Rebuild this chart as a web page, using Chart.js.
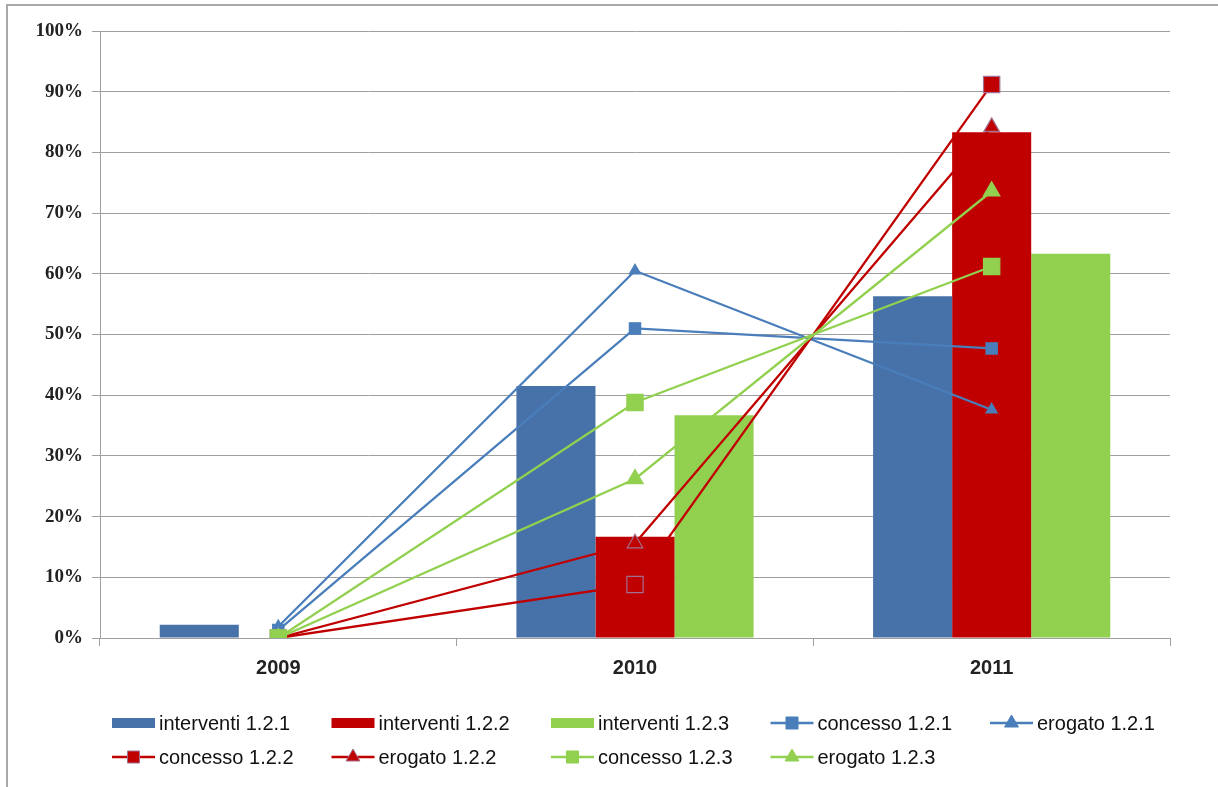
<!DOCTYPE html>
<html>
<head>
<meta charset="utf-8">
<script src="https://cdn.jsdelivr.net/npm/chart.js@4/dist/chart.umd.min.js"></script>
<style>
  html, body { margin: 0; padding: 0; background: #ffffff; }
  #wrap { position: relative; width: 1218px; height: 787px; overflow: hidden; }
  #frame { position: absolute; left: 6px; top: 4px; width: 1300px; height: 900px;
           border-top: 2px solid #a8a8a8; border-left: 2px solid #a8a8a8; }
  canvas { position: absolute; left: 0; top: 0; }
</style>
</head>
<body>
<div id="wrap">
  <div id="frame"></div>
  <canvas id="chart" width="1218" height="787"></canvas>
</div>
<script>
// Years on the horizontal axis
const years = ['2009', '2010', '2011'];

// Share of each year (percent) – bars
const interventi121 = [2.2, 41.5, 56.3];
const interventi122 = [0, 16.7, 83.3];
const interventi123 = [0, 36.7, 63.3];

// Share of each year (percent) – lines
const concesso121 = [1.3, 51.0, 47.7];
const erogato121  = [1.9, 60.5, 37.6];
const concesso122 = [0, 8.8, 91.2];
const erogato122  = [0, 15.6, 84.2];
const concesso123 = [0, 38.8, 61.2];
const erogato123  = [0, 26.2, 73.6];

// Percent axis ticks
const yTicks = [0, 10, 20, 30, 40, 50, 60, 70, 80, 90, 100];

const BLUE_BAR = '#4672a9';
const BLUE_LINE = '#4a7ebb';
const RED = '#c00000';
const RED_EDGE = '#a27090';
const GREEN = '#92d050';

function bar(label, data, color) {
  return { type: 'bar', label, data, backgroundColor: color, borderWidth: 0, order: 20 };
}
function line(label, data, color, style, radius, edge, order) {
  return {
    type: 'line', label, data, order,
    borderColor: color, borderWidth: 2.3, tension: 0, fill: false,
    pointStyle: style, pointRadius: radius, pointHoverRadius: radius,
    pointBackgroundColor: color, pointBorderColor: edge || color, pointBorderWidth: 1.2
  };
}

const datasets = [
  bar('interventi 1.2.1', interventi121, BLUE_BAR),
  bar('interventi 1.2.2', interventi122, RED),
  bar('interventi 1.2.3', interventi123, GREEN),
  line('concesso 1.2.1', concesso121, BLUE_LINE, 'rect', 8, null, 8),
  line('erogato 1.2.1', erogato121, BLUE_LINE, 'triangle', 6.5, null, 7),
  line('concesso 1.2.2', concesso122, RED, 'rect', 11.5, RED_EDGE, 6),
  line('erogato 1.2.2', erogato122, RED, 'triangle', 9, RED_EDGE, 5),
  line('concesso 1.2.3', concesso123, GREEN, 'rect', 11.5, null, 4),
  line('erogato 1.2.3', erogato123, GREEN, 'triangle', 9.5, null, 3)
];

// Two-row grid legend under the axis
const gridLegend = {
  id: 'gridLegend',
  afterDraw(chart) {
    const ctx = chart.ctx;
    ctx.save();
    ctx.font = '20px "Liberation Sans", Arial, sans-serif';
    ctx.textBaseline = 'middle';
    chart.data.datasets.forEach((ds, i) => {
      const col = i % 5, row = Math.floor(i / 5);
      const x = 112 + col * 219.5;
      const y = row === 0 ? 723 : 757;
      if (ds.type === 'bar') {
        ctx.fillStyle = ds.backgroundColor;
        ctx.fillRect(x, y - 5, 43, 10);
      } else {
        ctx.strokeStyle = ds.borderColor;
        ctx.lineWidth = 2.5;
        ctx.beginPath();
        ctx.moveTo(x, y);
        ctx.lineTo(x + 43, y);
        ctx.stroke();
        ctx.fillStyle = ds.pointBackgroundColor;
        ctx.strokeStyle = ds.pointBorderColor;
        ctx.lineWidth = 1;
        Chart.helpers.drawPoint(ctx, {
          pointStyle: ds.pointStyle,
          radius: ds.pointStyle === 'rect' ? 8.5 : 8,
          rotation: 0,
          borderWidth: 1
        }, x + 21.5, y);
      }
      ctx.fillStyle = '#111';
      ctx.fillText(ds.label, x + 47, y + 1);
    });
    ctx.restore();
  }
};

new Chart(document.getElementById('chart'), {
  data: { labels: years, datasets },
  plugins: [gridLegend],
  options: {
    responsive: false,
    animation: false,
    layout: { padding: { top: 31, right: 48, left: 0, bottom: 0 } },
    plugins: { legend: { display: false }, tooltip: { enabled: false } },
    datasets: { bar: { barPercentage: 1, categoryPercentage: 0.665 } },
    scales: {
      x: {
        offset: true,
        grid: { offset: true, drawOnChartArea: false, drawTicks: true, tickLength: 8, color: '#9f9f9f', lineWidth: 1 },
        border: { color: '#9f9f9f', width: 1 },
        ticks: { color: '#222', padding: 10, font: { family: '"Liberation Sans", Arial, sans-serif', size: 20, weight: 'bold' } },
        afterFit(scale) { scale.height = 149; }
      },
      y: {
        min: 0, max: 100,
        afterBuildTicks(scale) { scale.ticks = yTicks.map(v => ({ value: v })); },
        grid: { color: '#9f9f9f', lineWidth: 1, tickLength: 8 },
        border: { color: '#9f9f9f', width: 1 },
        ticks: {
          color: '#222', padding: 9,
          font: { family: '"Liberation Serif", "Times New Roman", serif', size: 19, weight: 'bold' },
          callback: v => v + '%'
        },
        afterFit(scale) { scale.width = 100; }
      }
    }
  }
});
</script>
</body>
</html>
